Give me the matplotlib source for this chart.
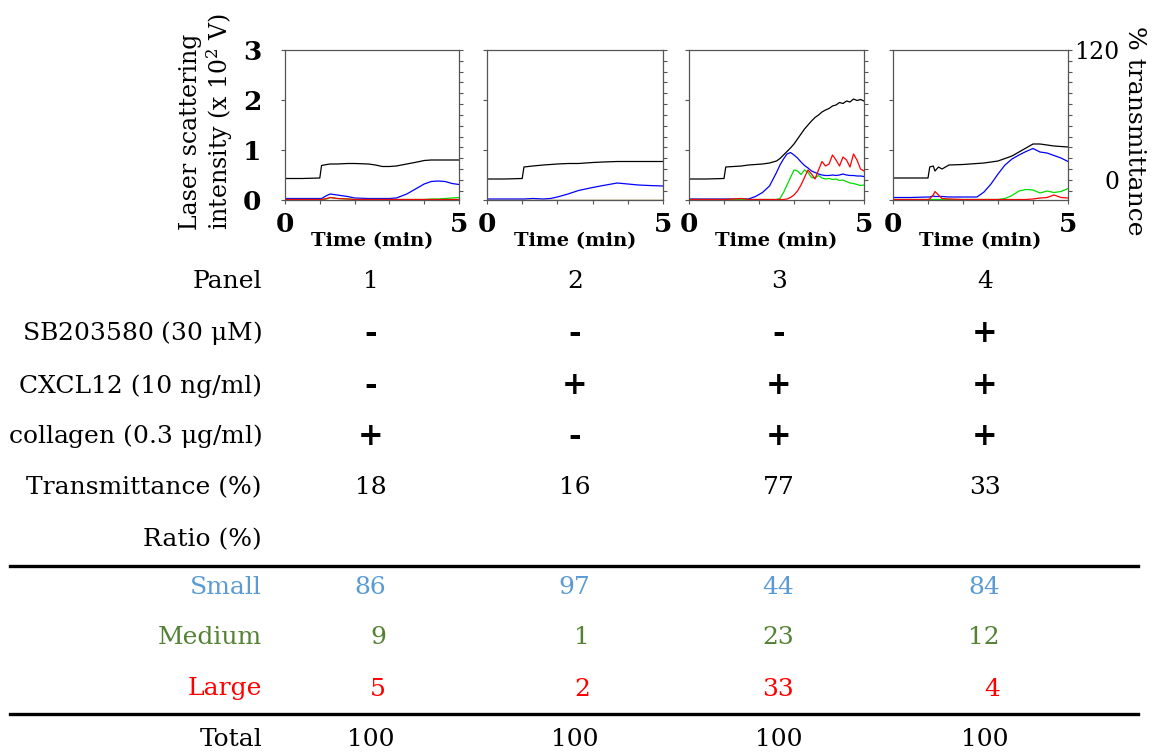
import numpy as np
import matplotlib
matplotlib.use('Agg')
import matplotlib.pyplot as plt

plt.rcParams['font.family'] = ['DejaVu Serif']
plt.rcParams['mathtext.fontset'] = 'dejavuserif'

# --- traces (time in min, intensity in x10^2 V) ---
t1 = [0, 0.5, 1.0, 1.05, 1.2, 1.3, 1.5, 1.8, 2.0, 2.4, 2.6, 2.8, 3.0, 3.2, 3.5, 3.8, 4.0, 4.2, 4.4, 4.6, 4.8, 5.0]
black1 = [0.43, 0.43, 0.44, 0.69, 0.71, 0.72, 0.72, 0.73, 0.73, 0.72, 0.70, 0.67, 0.67, 0.68, 0.72, 0.76, 0.79, 0.80, 0.80, 0.80, 0.80, 0.80]
blue1 = [0.03, 0.03, 0.03, 0.03, 0.09, 0.12, 0.10, 0.07, 0.04, 0.03, 0.03, 0.03, 0.03, 0.04, 0.12, 0.24, 0.32, 0.37, 0.38, 0.37, 0.33, 0.31]
green1 = [0.01, 0.01, 0.01, 0.01, 0.02, 0.05, 0.03, 0.02, 0.01, 0.01, 0.01, 0.01, 0.01, 0.01, 0.01, 0.01, 0.01, 0.02, 0.02, 0.03, 0.04, 0.05]
red1 = [0.01, 0.01, 0.01, 0.01, 0.03, 0.05, 0.03, 0.02, 0.01, 0.01, 0.01, 0.01, 0.01, 0.01, 0.01, 0.01, 0.01, 0.01, 0.01, 0.01, 0.01, 0.01]

t2 = [0, 0.5, 1.0, 1.05, 1.3, 1.6, 1.8, 2.0, 2.3, 2.6, 3.0, 3.3, 3.7, 4.0, 4.3, 4.6, 5.0]
black2 = [0.42, 0.42, 0.43, 0.66, 0.68, 0.70, 0.71, 0.72, 0.73, 0.73, 0.75, 0.76, 0.77, 0.77, 0.77, 0.77, 0.77]
blue2 = [0.02, 0.02, 0.02, 0.02, 0.03, 0.02, 0.03, 0.06, 0.12, 0.19, 0.25, 0.29, 0.34, 0.32, 0.30, 0.29, 0.28]
green2 = [0.01, 0.01, 0.01, 0.01, 0.01, 0.01, 0.01, 0.01, 0.01, 0.01, 0.01, 0.01, 0.01, 0.01, 0.01, 0.01, 0.01]
red2 = [0.01, 0.01, 0.01, 0.01, 0.01, 0.01, 0.01, 0.01, 0.01, 0.01, 0.01, 0.01, 0.01, 0.01, 0.01, 0.01, 0.01]

t3 = [0, 0.5, 1.0, 1.05, 1.5, 1.7, 1.9, 2.1, 2.3, 2.5, 2.6, 2.7, 2.8, 2.9, 3.0, 3.1, 3.2, 3.3, 3.4, 3.5,
      3.6, 3.7, 3.8, 3.9, 4.0, 4.1, 4.2, 4.3, 4.4, 4.5, 4.6, 4.7, 4.8, 4.9, 5.0]
black3 = [0.42, 0.42, 0.43, 0.66, 0.68, 0.70, 0.71, 0.72, 0.74, 0.78, 0.83, 0.90, 0.97, 1.04, 1.12, 1.22, 1.32, 1.42, 1.50, 1.58,
          1.65, 1.70, 1.76, 1.80, 1.83, 1.88, 1.90, 1.95, 1.93, 1.98, 1.96, 2.02, 1.99, 2.01, 1.98]
blue3 = [0.02, 0.02, 0.02, 0.02, 0.02, 0.02, 0.07, 0.15, 0.28, 0.55, 0.70, 0.82, 0.92, 0.95, 0.90, 0.84, 0.76, 0.69, 0.64, 0.58,
         0.55, 0.52, 0.50, 0.49, 0.49, 0.50, 0.49, 0.50, 0.52, 0.50, 0.49, 0.49, 0.48, 0.48, 0.47]
green3 = [0.01, 0.01, 0.01, 0.01, 0.01, 0.01, 0.01, 0.01, 0.01, 0.01, 0.03, 0.15, 0.30, 0.45, 0.60, 0.58, 0.51, 0.60, 0.55, 0.45,
          0.44, 0.49, 0.44, 0.42, 0.43, 0.41, 0.42, 0.39, 0.40, 0.37, 0.34, 0.33, 0.31, 0.29, 0.30]
red3 = [0.01, 0.01, 0.01, 0.01, 0.03, 0.01, 0.01, 0.01, 0.01, 0.01, 0.01, 0.01, 0.02, 0.05, 0.10, 0.18, 0.30, 0.45, 0.60, 0.52,
        0.42, 0.60, 0.77, 0.68, 0.72, 0.90, 0.80, 0.68, 0.86, 0.80, 0.66, 0.92, 0.80, 0.62, 0.58]

t4 = [0, 0.5, 1.0, 1.05, 1.15, 1.2, 1.3, 1.4, 1.6, 2.0, 2.4, 2.6, 2.8, 3.0, 3.2, 3.4, 3.6, 3.8, 4.0, 4.2, 4.4, 4.6, 4.8, 5.0]
black4 = [0.44, 0.44, 0.44, 0.66, 0.68, 0.58, 0.66, 0.62, 0.70, 0.71, 0.73, 0.74, 0.76, 0.78, 0.83, 0.88, 0.96, 1.04, 1.12, 1.12, 1.10, 1.08, 1.07, 1.06]
blue4 = [0.05, 0.05, 0.06, 0.06, 0.08, 0.07, 0.07, 0.07, 0.06, 0.06, 0.06, 0.16, 0.32, 0.52, 0.70, 0.82, 0.90, 0.97, 1.03, 0.96, 0.94, 0.89, 0.84, 0.77]
green4 = [0.01, 0.01, 0.01, 0.01, 0.01, 0.01, 0.01, 0.01, 0.01, 0.01, 0.01, 0.01, 0.01, 0.01, 0.03, 0.09, 0.18, 0.21, 0.20, 0.14, 0.18, 0.15, 0.17, 0.23]
red4 = [0.01, 0.01, 0.01, 0.02, 0.10, 0.17, 0.10, 0.03, 0.02, 0.01, 0.01, 0.01, 0.01, 0.01, 0.01, 0.01, 0.01, 0.01, 0.02, 0.04, 0.05, 0.10, 0.05, 0.04]

# --- table ---
panels = ['1', '2', '3', '4']
sb203580 = ['-', '-', '-', '+']
cxcl12 = ['-', '+', '+', '+']
collagen = ['+', '-', '+', '+']
transmittance = [18, 16, 77, 33]
small = [86, 97, 44, 84]
medium = [9, 1, 23, 12]
large = [5, 2, 33, 4]
total = [100, 100, 100, 100]

W, H = 1160, 753
fig = plt.figure(figsize=(W / 100, H / 100), dpi=100)

def fx(x):
    return x / W

def fy(y):
    return 1 - y / H

traces = [(t1, black1, blue1, green1, red1), (t2, black2, blue2, green2, red2),
          (t3, black3, blue3, green3, red3), (t4, black4, blue4, green4, red4)]
lefts = [285, 487, 689, 893]
rights = [459, 663, 864, 1068]
top, bottom = 50, 200
spine_c = '#555555'

for i, (t, bk, bl, gr, rd) in enumerate(traces):
    ax = fig.add_axes([fx(lefts[i]), fy(bottom), fx(rights[i] - lefts[i]), (bottom - top) / H])
    ax.plot(t, bl, color='#0000ff', lw=0.9)
    ax.plot(t, gr, color='#00dd00', lw=0.9)
    ax.plot(t, rd, color='#ff0000', lw=0.9)
    ax.plot(t, bk, color='black', lw=0.9)
    ax.set_xlim(0, 5)
    ax.set_ylim(0, 3)
    ax.set_xticks([0, 1, 2, 3, 4, 5])
    ax.set_xticklabels(['0', '', '', '', '', '5'])
    ax.set_yticks([0, 1, 2, 3])
    if i == 0:
        ax.set_yticklabels(['0', '1', '2', '3'])
    else:
        ax.set_yticklabels([])
    ax.tick_params(axis='both', direction='out', length=3, width=0.8, color=spine_c,
                   labelsize=19)
    ax.tick_params(axis='x', pad=6)
    ax.tick_params(axis='y', pad=14)
    for lab in ax.get_xticklabels() + ax.get_yticklabels():
        lab.set_fontweight('bold')
    ax.set_xlabel('Time (min)', fontsize=14, fontweight='bold', labelpad=-4)
    for s in ax.spines.values():
        s.set_color(spine_c)
        s.set_linewidth(0.9)

    ax2 = ax.twinx()
    ax2.set_ylim(-18.5, 120)
    ax2.set_yticks(np.arange(-10, 121, 10))
    ax2.tick_params(axis='y', direction='out', length=3, width=0.8, color=spine_c)
    if i == 3:
        ax2.set_yticklabels(['120' if v == 120 else ('0' if v == 0 else '') for v in np.arange(-10, 121, 10)])
        ax2.tick_params(axis='y', labelsize=17, pad=34)
        for lab in ax2.get_yticklabels():
            lab.set_ha('right')
    else:
        ax2.set_yticklabels([])
    for s in ax2.spines.values():
        s.set_visible(False)

# axis titles
fig.text(fx(191), fy(230), 'Laser scattering', rotation=90, ha='center', va='bottom', fontsize=17)
fig.text(fx(220), fy(230), 'intensity (x 10$^{2}$ V)', rotation=90, ha='center', va='bottom', fontsize=17)
fig.text(fx(1135), fy(131), '% transmittance', rotation=270, ha='center', va='center', fontsize=18)

# table
cols = [371, 575, 779, 985]
lab_x = 262
fs = 18

def row_label(y, s, color='black'):
    fig.text(fx(lab_x), fy(y), s, ha='right', va='center', fontsize=fs, color=color)

def row_center(y, vals, size=fs, color='black', weight='normal'):
    for c, v in zip(cols, vals):
        fig.text(fx(c), fy(y), str(v), ha='center', va='center', fontsize=size,
                 color=color, fontweight=weight)

def row_right(y, vals, color):
    for c, v in zip(cols, vals):
        fig.text(fx(c + 15), fy(y), str(v), ha='right', va='center', fontsize=fs, color=color)

row_label(282, 'Panel')
row_center(282, panels)
row_label(333, 'SB203580 (30 $\\mathregular{\\mu}$M)')
row_center(333, sb203580, size=22, weight='bold')
row_label(386, 'CXCL12 (10 ng/ml)')
row_center(386, cxcl12, size=22, weight='bold')
row_label(436, 'collagen (0.3 $\\mathregular{\\mu}$g/ml)')
row_center(436, collagen, size=22, weight='bold')
row_label(488, 'Transmittance (%)')
row_center(488, transmittance)
row_label(540, 'Ratio (%)')

c_small, c_med, c_large = '#5b9bd5', '#548235', '#ff0000'
row_label(587, 'Small', c_small)
row_right(587, small, c_small)
row_label(637, 'Medium', c_med)
row_right(637, medium, c_med)
row_label(689, 'Large', c_large)
row_right(689, large, c_large)
row_label(740, 'Total')
row_center(740, total)

for y in [566, 714]:
    fig.add_artist(plt.Line2D([fx(10), fx(1138)], [fy(y), fy(y)], color='black', lw=2.4))

fig.savefig('out.png', dpi=100)
